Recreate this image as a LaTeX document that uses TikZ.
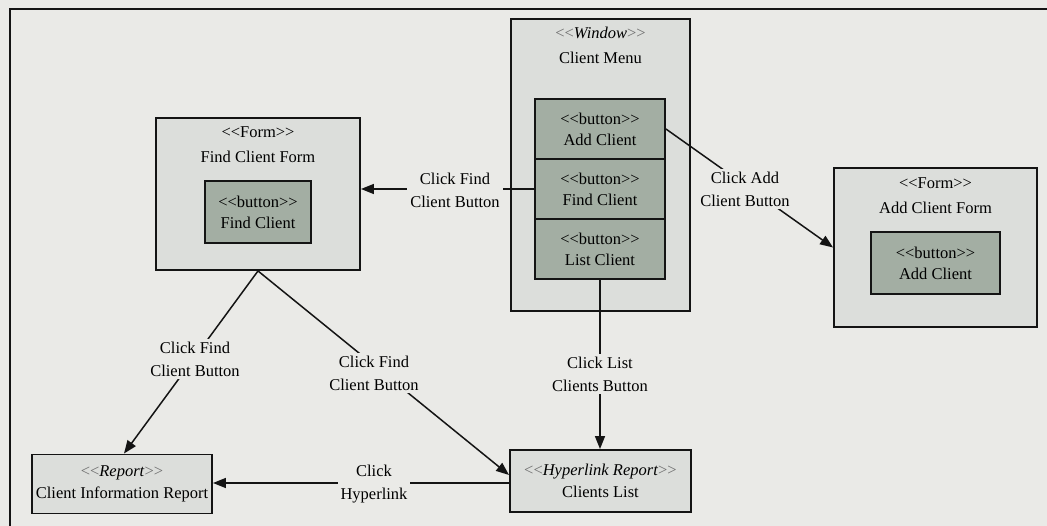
\documentclass[tikz,border=0pt]{standalone}
\usepackage{fontspec}
\setmainfont{Liberation Serif}[Ligatures=TeXOff]
\usetikzlibrary{arrows.meta}
\definecolor{bgc}{RGB}{234,234,231}
\definecolor{boxc}{RGB}{220,222,219}
\definecolor{btnc}{RGB}{163,174,163}
\definecolor{inkc}{RGB}{20,20,20}
\definecolor{stc}{RGB}{110,110,110}
\newcommand{\stq}[1]{{\color{stc}<<}\textit{#1}{\color{stc}>>}}
\begin{document}
\begin{tikzpicture}[x=1pt,y=-1pt,
  outerbox/.style={draw=inkc,line width=1.9pt,fill=boxc,inner sep=0pt},
  btnbox/.style={draw=inkc,line width=1.9pt,fill=btnc,inner sep=0pt,align=center,font=\fontsize{16.5}{21}\selectfont},
  repbox/.style={draw=inkc,line width=1.9pt,fill=boxc,inner sep=0pt,align=center,font=\fontsize{16.5}{22}\selectfont},
  ttl/.style={align=center,font=\fontsize{16.5}{25}\selectfont,inner sep=0pt},
  conn/.style={draw=inkc,line width=1.5pt},
  arr/.style={conn,-{Triangle[length=13pt,width=10pt]}},
  lbl/.style={fill=bgc,align=center,font=\fontsize{16.5}{23}\selectfont,inner sep=3pt}]
\fill[bgc] (0,0) rectangle (1047,526);
\useasboundingbox (0,0) rectangle (1047,526);
\draw[inkc,line width=1.6pt] (10,526) -- (10,9) -- (1047,9);

% Find Client Form
\node[outerbox,minimum width=204pt,minimum height=152pt] (fcf) at (258,194) {};
\node[ttl] (fcfT) at (258,145) {<<Form>>\\Find Client Form};
\node[btnbox,minimum width=106pt,minimum height=62pt] (fcfB) at (258,212) {<<button>>\\Find Client};

% Client Menu window
\node[outerbox,minimum width=179pt,minimum height=292pt] (win) at (600.5,165) {};
\node[ttl] (winT) at (600.5,45.5) {\stq{Window}\\Client Menu};
\node[btnbox,minimum width=130pt,minimum height=60pt] (bAdd) at (600,129) {<<button>>\\Add Client};
\node[btnbox,minimum width=130pt,minimum height=60pt] (bFind) at (600,189) {<<button>>\\Find Client};
\node[btnbox,minimum width=130pt,minimum height=60pt] (bList) at (600,249) {<<button>>\\List Client};

% Add Client Form
\node[outerbox,minimum width=203pt,minimum height=159pt] (acf) at (935.5,247.5) {};
\node[ttl] (acfT) at (935.5,195.5) {<<Form>>\\Add Client Form};
\node[btnbox,minimum width=129pt,minimum height=62pt] (acfB) at (935.5,263) {<<button>>\\Add Client};

% Reports
\node[repbox,minimum width=180pt,minimum height=59pt] (cir) at (122,484) {\stq{Report}\\Client Information Report};
\node[repbox,minimum width=181pt,minimum height=62pt] (cl) at (600.5,481) {\stq{Hyperlink Report}\\Clients List};

% connectors
\coordinate (clin) at ([yshift=6pt]cl.west);
\draw[arr] (bFind.west) -- (bFind.west -| fcf.east);
\draw[arr] (bAdd.east) -- (acf.west);
\draw[arr] (bList.south) -- (bList.south |- cl.north);
\draw[arr] (fcf.south) -- ([xshift=2pt]cir.north);
\draw[arr] (fcf.south) -- (clin);
\draw[arr] ([yshift=-2pt]cl.west) -- ([yshift=-2pt]cl.west -| cir.east);

% labels
\node[lbl] (l1) at (455,190) {Click Find\\Client Button};
\node[lbl] (l2) at (745,189) {Click Add\\Client Button};
\node[lbl] (l3) at (600,374) {Click List\\Clients Button};
\node[lbl] (l4) at (195,359) {Click Find\\Client Button};
\node[lbl] (l5) at (374,373) {Click Find\\Client Button};
\node[lbl] (l6) at (374,484) {Click\\Hyperlink};
\end{tikzpicture}
\end{document}
